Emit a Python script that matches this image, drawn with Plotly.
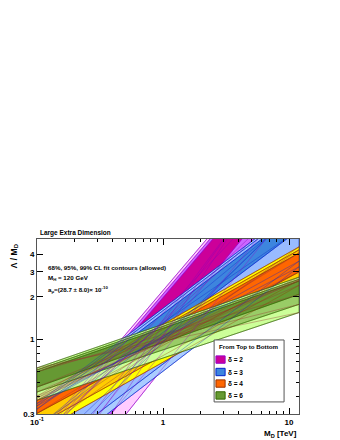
import numpy as np
import plotly.graph_objects as go

# M_D [TeV] at the left and right ends of each contour line
md_ends = [0.1, 12.0]

# Lambda/M_D of the contour edges, ordered 99%up, 95%up, 68%up, 68%lo, 95%lo, 99%lo
d2_left = [0.202, 0.191, 0.180, 0.0895, 0.072, 0.0492]
d2_right = [29.4, 27.7, 26.2, 15.7, 11.3, 10.0]
d3_left = [0.355, 0.342, 0.325, 0.240, 0.144, 0.125]
d3_right = [8.77, 8.45, 8.03, 5.93, 3.56, 3.25]
d4_left = [0.401, 0.388, 0.375, 0.303, 0.249, 0.219]
d4_right = [4.49, 4.28, 4.07, 2.99, 2.62, 2.41]
d6_left = [0.633, 0.613, 0.593, 0.464, 0.428, 0.375]
d6_right = [2.75, 2.66, 2.58, 2.08, 1.77, 1.55]

x_ticks = [0.1, 1, 10]
x_labels = ["10<sup>-1</sup>", "1", "10"]
y_ticks = [0.3, 1, 2, 3, 4]
y_labels = ["0.3", "1", "2", "3", "4"]

deltas = ["2", "3", "4", "6"]
# fill colours 99%, 95%, 68%
fills = {
    "2": ["#FFCCFF", "#CC66FF", "#CC0099"],
    "3": ["#AACCFF", "#99BBFF", "#3D85DE"],
    "4": ["#FFFF00", "#FFCC00", "#FF6600"],
    "6": ["#CCFF99", "#99CC66", "#669933"],
}
edge = {"2": "#9900CC", "3": "#0022CC", "4": "#993300", "6": "#336600"}
band_data = {"2": (d2_left, d2_right), "3": (d3_left, d3_right),
             "4": (d4_left, d4_right), "6": (d6_left, d6_right)}

fig = go.Figure()

for d in deltas:
    left, right = band_data[d]
    for k in range(3):  # 99, 95, 68 from outside in
        up_l, up_r = left[k], right[k]
        lo_l, lo_r = left[5 - k], right[5 - k]
        fig.add_trace(go.Scatter(
            x=[md_ends[0], md_ends[1], md_ends[1], md_ends[0], md_ends[0]],
            y=[up_l, up_r, lo_r, lo_l, up_l],
            mode="lines", fill="toself", fillcolor=fills[d][k],
            line=dict(color=edge[d], width=0.6),
            hoverinfo="skip", showlegend=False))

# contour edges and crossing contour lines drawn over all fills
line_col = {"2": "#8800BB", "3": "#1122CC", "4": "#993333", "6": "#993333"}
for d in ["6", "4", "3", "2"]:
    left, right = band_data[d]
    for k in range(6):
        fig.add_trace(go.Scatter(
            x=md_ends, y=[left[k], right[k]], mode="lines",
            line=dict(color=edge[d], width=0.5), opacity=0.7,
            hoverinfo="skip", showlegend=False))
    for k in range(3):
        for a, b in [(k, 5 - k), (5 - k, k)]:
            fig.add_trace(go.Scatter(
                x=md_ends, y=[left[a], right[b]], mode="lines",
                line=dict(color=line_col[d], width=0.5), opacity=0.75,
                hoverinfo="skip", showlegend=False))

font = "Liberation Sans, Arial, sans-serif"

# page body adds 8 px on the left and top, so the figure is shrunk by that much
fig.update_layout(
    width=332, height=432,
    margin=dict(l=29, r=41, t=231, b=26),
    paper_bgcolor="white", plot_bgcolor="white",
    font=dict(family=font, size=8, color="black"),
    xaxis=dict(
        type="log", range=[-1, np.log10(12)],
        tickvals=x_ticks, ticktext=["<b>%s</b>" % t for t in x_labels],
        ticks="inside", ticklen=6, tickcolor="black",
        minor=dict(tickvals=[0.2, 0.3, 0.4, 0.5, 0.6, 0.7, 0.8, 0.9,
                             2, 3, 4, 5, 6, 7, 8, 9],
                   ticks="inside", ticklen=3, tickcolor="black"),
        showline=True, linecolor="#555555", linewidth=1, mirror="allticks",
        showgrid=False, zeroline=False,
        tickfont=dict(family=font, size=8, color="black"),
    ),
    yaxis=dict(
        type="log", range=[np.log10(0.3), np.log10(5.1)],
        tickvals=y_ticks, ticktext=["<b>%s</b>" % t for t in y_labels],
        ticks="inside", ticklen=6, tickcolor="black",
        minor=dict(tickvals=[0.4, 0.5, 0.6, 0.7, 0.8, 0.9],
                   ticks="inside", ticklen=3, tickcolor="black"),
        showline=True, linecolor="#555555", linewidth=1, mirror="allticks",
        showgrid=False, zeroline=False,
        tickfont=dict(family=font, size=8, color="black"),
    ),
)

ann = []
ann.append(dict(text="<b>Large Extra Dimension</b>", x=0.004, y=1.0,
                xref="paper", yref="paper", xanchor="left", yanchor="bottom",
                showarrow=False, font=dict(size=6.5)))
for txt, yy in [("<b>68%, 95%, 99% CL fit contours (allowed)</b>", 0.84),
                ("<b>M<sub>H</sub> = 120 GeV</b>", 0.777),
                ("<b>a<sub>μ</sub>=(28.7 ± 8.0)× 10<sup>-10</sup></b>", 0.714)]:
    ann.append(dict(text=txt, x=0.036, y=yy, xref="paper", yref="paper",
                    xanchor="left", yanchor="middle", showarrow=False,
                    font=dict(size=6.2)))
ann.append(dict(text="<b>Λ / M<sub>D</sub></b>", x=-0.088, y=0.99, xref="paper",
                yref="paper", xanchor="center", yanchor="top", textangle=-90,
                showarrow=False, font=dict(size=8.5)))
ann.append(dict(text="<b>M<sub>D</sub> [TeV]</b>", x=1.0, y=-0.075, xref="paper",
                yref="paper", xanchor="right", yanchor="top", showarrow=False,
                font=dict(size=8)))

# legend box
shapes = [dict(type="rect", xref="paper", yref="paper", x0=0.676, x1=0.943,
               y0=0.069, y1=0.423, line=dict(color="#555555", width=1),
               fillcolor="white")]
ann.append(dict(text="<b>From Top to Bottom</b>", x=0.687, y=0.383, xref="paper",
                yref="paper", xanchor="left", yanchor="middle", showarrow=False,
                font=dict(size=6.2)))
leg_y = [0.311, 0.24, 0.174, 0.106]
for d, yy in zip(deltas, leg_y):
    shapes.append(dict(type="rect", xref="paper", yref="paper", x0=0.683, x1=0.718,
                       y0=yy - 0.021, y1=yy + 0.021, fillcolor=fills[d][2],
                       line=dict(color=edge[d], width=1)))
    ann.append(dict(text="<b>δ = %s</b>" % d, x=0.722, y=yy, xref="paper",
                    yref="paper", xanchor="left", yanchor="middle",
                    showarrow=False, font=dict(size=6.5)))

fig.update_layout(annotations=ann, shapes=shapes)

fig.write_html("out.html")
